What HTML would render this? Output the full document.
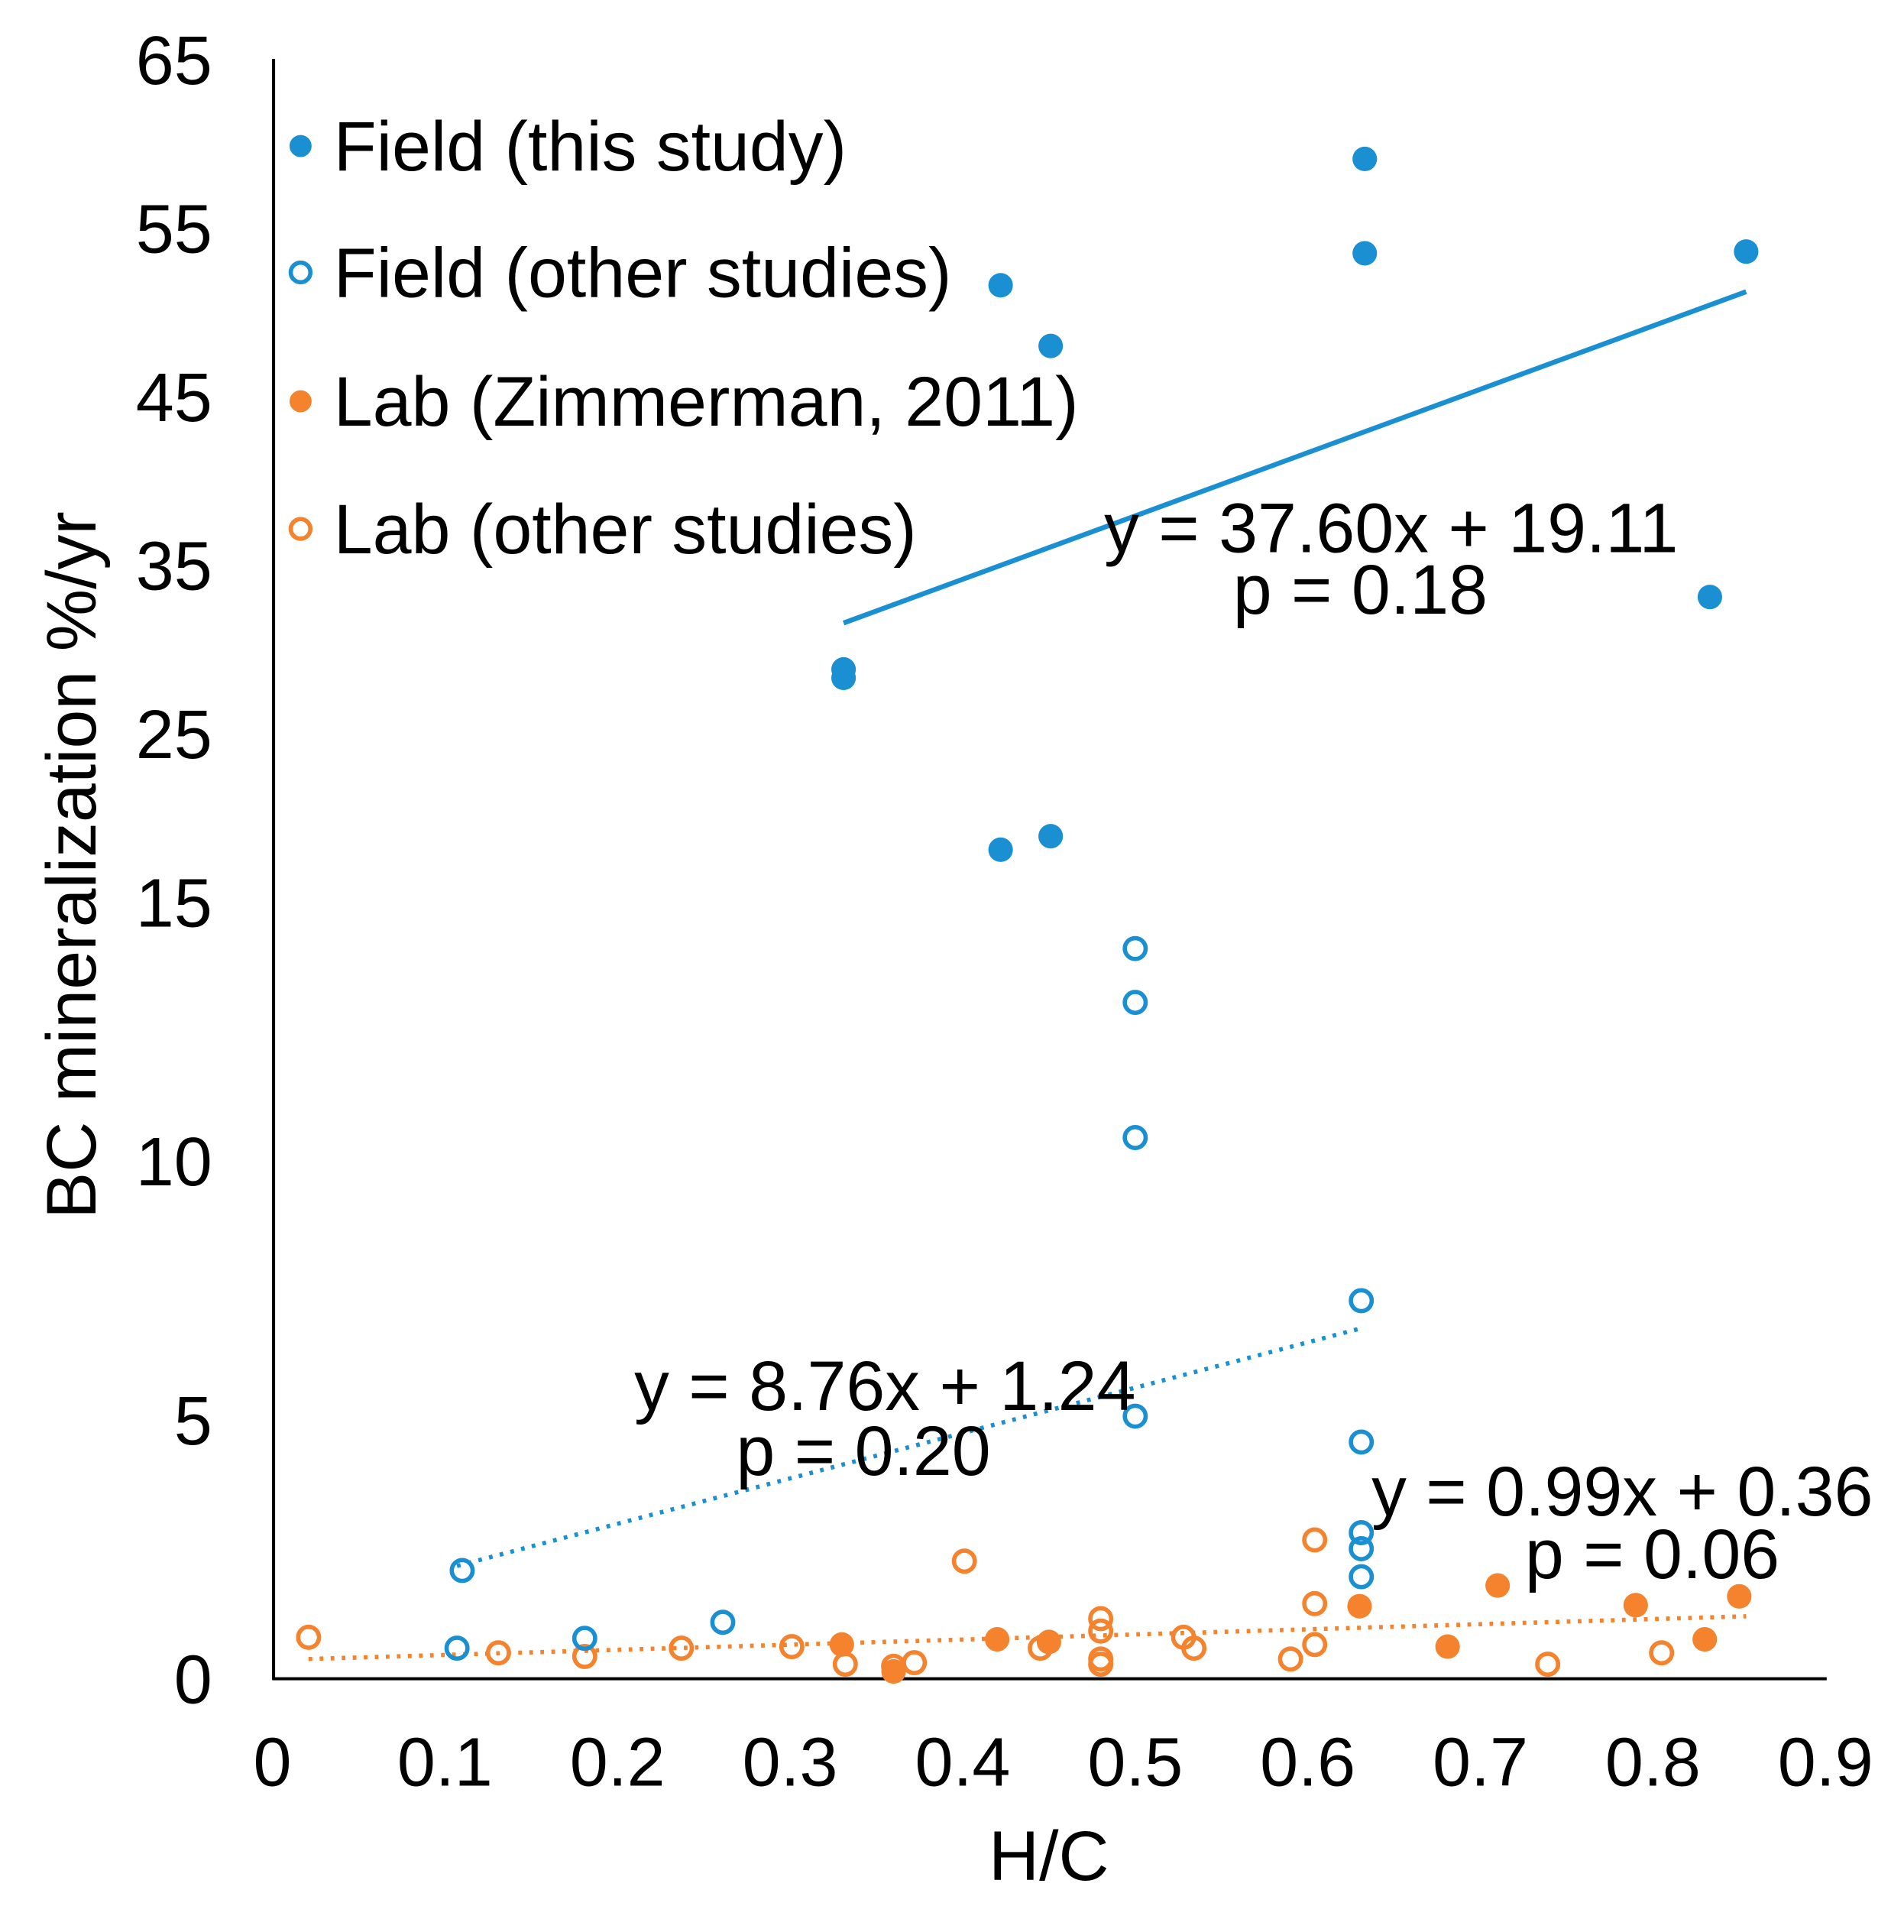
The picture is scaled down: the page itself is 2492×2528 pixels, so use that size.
<!DOCTYPE html>
<html><head><meta charset="utf-8"><style>
html,body{margin:0;padding:0;background:#fff}
svg{display:block}
text{font-family:"Liberation Sans",sans-serif;fill:#000}
</style></head><body>
<svg id="chart" width="2492" height="2528" viewBox="0 0 1552 1574.4" xmlns="http://www.w3.org/2000/svg"></svg>
<script>
const xTicks=[0,0.1,0.2,0.3,0.4,0.5,0.6,0.7,0.8,0.9];
const xTickLabels=["0","0.1","0.2","0.3","0.4","0.5","0.6","0.7","0.8","0.9"];
const yTicks=[0,5,10,15,25,35,45,55,65];
const yTickLabels=["0","5","10","15","25","35","45","55","65"];
const fieldThisX=[0.331,0.331,0.422,0.451,0.422,0.451,0.633,0.633,0.854,0.833];
const fieldThisY=[28.8,28.3,18.1,18.9,51.6,48.0,59.1,53.5,53.6,33.1];
const fieldOtherX=[0.110,0.107,0.181,0.261,0.5,0.5,0.5,0.5,0.631,0.631,0.631,0.631,0.631];
const fieldOtherY=[2.09,0.59,0.78,1.09,14.1,13.06,10.45,5.07,7.3,4.57,2.82,2.51,1.97];
const labZimX=[0.33,0.42,0.45,0.63,0.681,0.71,0.79,0.83,0.85,0.36];
const labZimY=[0.66,0.76,0.71,1.4,0.62,1.8,1.42,0.76,1.59,0.14];
const labOtherX=[0.021,0.131,0.181,0.237,0.301,0.332,0.36,0.372,0.401,0.445,0.48,0.48,0.48,0.48,0.528,0.534,0.59,0.604,0.604,0.604,0.739,0.805];
const labOtherY=[0.8,0.5,0.43,0.59,0.62,0.28,0.24,0.31,2.27,0.59,1.16,0.92,0.38,0.28,0.8,0.59,0.38,2.68,1.45,0.66,0.28,0.5];
const trendSlopes=[37.60,8.76,0.99];
const trendIntercepts=[19.11,1.24,0.36];
const trendX0=[0.331,0.107,0.021];
const trendX1=[0.854,0.631,0.854];

const BLUE="#1a90d2", ORANGE="#f5822c";
const NS="http://www.w3.org/2000/svg";
const svg=document.getElementById('chart');
function X(v){return 222+v*1406.7;}
function Y(v){return v<=15?1368-v*42.2:735-(v-15)*13.73;}
function el(tag,attrs,parent){const e=document.createElementNS(NS,tag);for(const k in attrs)e.setAttribute(k,attrs[k]);(parent||svg).appendChild(e);return e;}

const trendStyles=[{c:BLUE,d:null},{c:BLUE,d:"3,6"},{c:ORANGE,d:"3,6"}];
const trendNames=['trendline-field-this-study','trendline-field-other-studies','trendline-lab'];
for(let i=0;i<trendSlopes.length;i++){
  const a={x1:X(trendX0[i]),y1:Y(trendSlopes[i]*trendX0[i]+trendIntercepts[i]),x2:X(trendX1[i]),y2:Y(trendSlopes[i]*trendX1[i]+trendIntercepts[i]),stroke:trendStyles[i].c,'stroke-width':trendStyles[i].d?3.5:4};
  if(trendStyles[i].d)a['stroke-dasharray']=trendStyles[i].d;
  const l=el('line',a);
  
  
}

const ya=el('line',{x1:223,y1:48,x2:223,y2:1369,stroke:'#000','stroke-width':2.5});


const xa=el('line',{x1:222,y1:1368,x2:1489,y2:1368,stroke:'#000','stroke-width':2.5});



for(let i=0;i<xTicks.length;i++){
  const t=el('text',{x:X(xTicks[i]),y:1455,'font-size':56,'text-anchor':'middle'});
  t.textContent=xTickLabels[i];
  
  
}
for(let i=0;i<yTicks.length;i++){
  const t=el('text',{x:173,y:Y(yTicks[i])+20,'font-size':56,'text-anchor':'end'});
  t.textContent=yTickLabels[i];
  
  
}
const xt=el('text',{x:855,y:1532,'font-size':57,'text-anchor':'middle'});
xt.textContent='H/C';


const yt=el('text',{x:0,y:0,'font-size':57,'text-anchor':'middle',transform:'translate(78,705) rotate(-90)'});
yt.textContent='BC mineralization %/yr';



function pts(xs,ys,color,filled,name){
  for(let i=0;i<xs.length;i++){
    const c=el('circle',filled?{cx:X(xs[i]),cy:Y(ys[i]),r:10,fill:color}:{cx:X(xs[i]),cy:Y(ys[i]),r:8.5,fill:'none',stroke:color,'stroke-width':3.5});
    
    
  }
}
pts(labOtherX,labOtherY,ORANGE,false,'point-lab-other-studies');
pts(labZimX,labZimY,ORANGE,true,'point-lab-zimmerman');
pts(fieldOtherX,fieldOtherY,BLUE,false,'point-field-other-studies');
pts(fieldThisX,fieldThisY,BLUE,true,'point-field-this-study');

const legLabels=["Field (this study)","Field (other studies)","Lab (Zimmerman, 2011)","Lab (other studies)"];
const legColors=[BLUE,BLUE,ORANGE,ORANGE];
const legFilled=[true,false,true,false];
const legY=[119,222,327,431];
for(let i=0;i<4;i++){
  const m=el('circle',legFilled[i]?{cx:245,cy:legY[i],r:9,fill:legColors[i]}:{cx:245,cy:legY[i],r:8,fill:'none',stroke:legColors[i],'stroke-width':3.5});
  
  
  const t=el('text',{x:272,y:legY[i]+20,'font-size':57});
  t.textContent=legLabels[i];
  
  
}

const eqTexts=["y = 37.60x + 19.11","p = 0.18","y = 8.76x + 1.24","p = 0.20","y = 0.99x + 0.36","p = 0.06"];
const eqPos=[[900,450],[1005,500],[517,1149],[600,1202],[1118,1235],[1243,1286]];
for(let i=0;i<eqTexts.length;i++){
  const t=el('text',{x:eqPos[i][0],y:eqPos[i][1],'font-size':57});
  t.textContent=eqTexts[i];
  
  
}
</script>
</body></html>
